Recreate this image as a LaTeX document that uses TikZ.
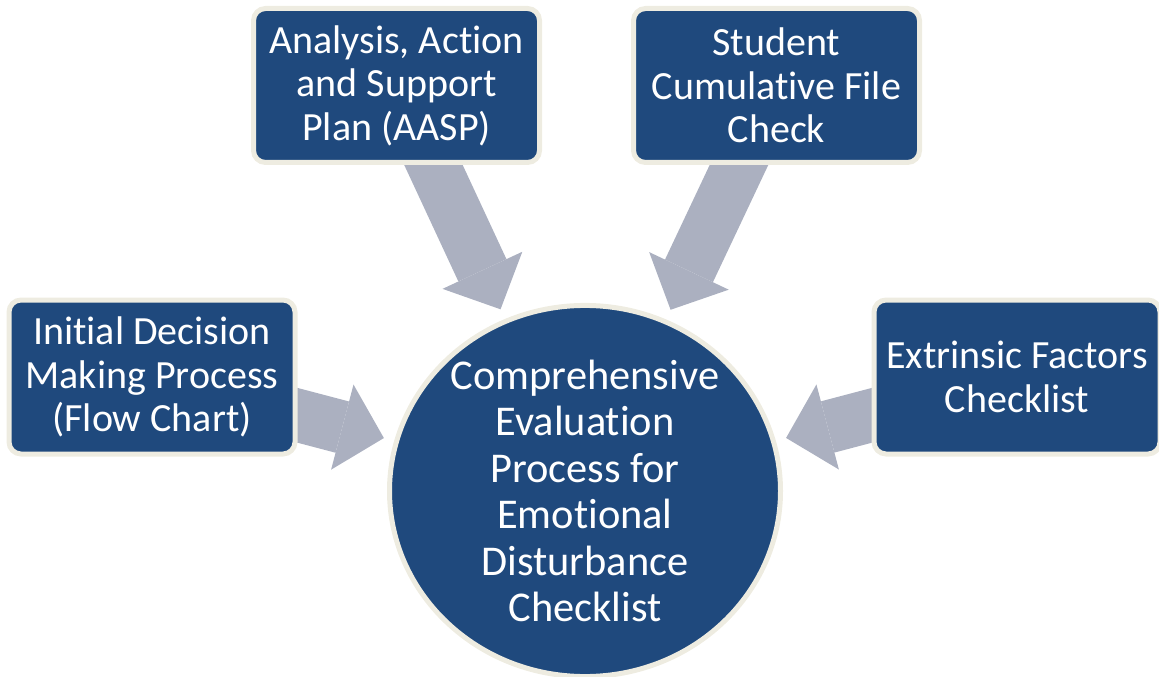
\documentclass[tikz,border=0pt]{standalone}
\usepackage{fontspec}
\setmainfont{Carlito}[Ligatures=NoCommon]
\usetikzlibrary{arrows.meta,shapes.geometric}
\pgfdeclarelayer{edgelayer}
\pgfsetlayers{edgelayer,main}
\definecolor{boxblue}{RGB}{31,73,125}
\definecolor{rimcream}{RGB}{238,236,225}
\definecolor{feedgrey}{RGB}{171,176,192}
\tikzset{font=\fontsize{30}{32.6}\selectfont}
\tikzstyle{src}=[rectangle,rounded corners=9pt,fill=boxblue,draw=rimcream,line width=3.75pt,text=white,align=center,minimum width=214.5pt,minimum height=115.5pt,inner sep=0pt]
\tikzstyle{hub}=[ellipse,fill=boxblue,draw=rimcream,line width=3.75pt,text=white,align=center,minimum width=293.25pt,minimum height=275.25pt,inner sep=0pt,font=\fontsize{31.8}{34.9}\selectfont]
\tikzstyle{feed}=[color=feedgrey,line width=39.75pt,-{Triangle[length=32.25pt,width=66pt,line width=0pt]},shorten >=8pt]

\begin{document}
\begin{tikzpicture}[x=0.75pt,y=-0.75pt]
\useasboundingbox (0,0) rectangle (1159,677);
\node[src] (A) at (396.5,85.5) {Analysis, Action\\and Support\\Plan (AASP)};
\node[src] (B) at (776.5,85.5) {Student\\Cumulative File\\Check};
\node[src] (C) at (152,377) {Initial Decision\\Making Process\\(Flow Chart)};
\node[src] (D) at (1017,377) {Extrinsic Factors\\Checklist};
\node[hub] (E) at (585,491) {Comprehensive\\Evaluation\\Process for\\Emotional\\Disturbance\\Checklist};
\begin{pgfonlayer}{edgelayer}
\path[feed]
(A.center) edge (E)
(B.center) edge (E)
(C.center) edge (E)
(D.center) edge (E);
\end{pgfonlayer}
\end{tikzpicture}
\end{document}
